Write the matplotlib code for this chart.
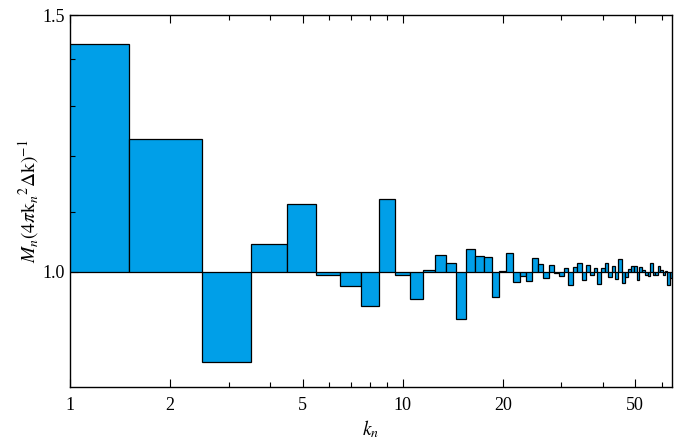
import numpy as np
import matplotlib
matplotlib.use("Agg")
import matplotlib.pyplot as plt
from matplotlib.ticker import FixedLocator, NullFormatter, FixedFormatter

plt.rcParams['font.family'] = ['Liberation Serif', 'DejaVu Serif']
plt.rcParams['mathtext.fontset'] = 'stix'

# mode number and normalised mass per mode
k = np.arange(1, 65)
m = [1.433, 1.234, 0.867, 1.045, 1.114, 0.995, 0.978, 0.948, 1.122, 0.995,
     0.959, 1.003, 1.027, 1.014, 0.928, 1.037, 1.025, 1.024, 0.961, 1.002,
     1.031, 0.984, 0.993, 0.986, 1.023, 1.013, 0.990, 1.011, 0.998, 0.993,
     1.006, 0.979, 1.008, 1.015, 0.987, 1.011, 0.996, 1.007, 0.981, 1.007,
     1.015, 0.992, 1.010, 0.989, 1.020, 0.983, 0.992, 1.004, 1.009, 1.010,
     0.987, 1.008, 1.003, 0.995, 0.993, 1.015, 0.995, 0.996, 1.010, 1.003,
     0.996, 1.002, 0.979, 0.990]
m = np.array(m)

fig = plt.figure(figsize=(6.88, 4.43), dpi=100)
ax = fig.add_axes([0.1017, 0.1264, 0.875, 0.8397])

ax.bar(k, m - 1, bottom=1, width=1, color='#009fe8', edgecolor='black', linewidth=0.9)

ax.set_xscale('log')
ax.set_yscale('log')
ax.set_xlim(1, 64.5)
ax.set_ylim(0.834, 1.5)

ax.xaxis.set_major_locator(FixedLocator([1, 2, 5, 10, 20, 50]))
ax.xaxis.set_major_formatter(FixedFormatter(['1', '2', '5', '10', '20', '50']))
ax.xaxis.set_minor_locator(FixedLocator([3, 4, 6, 7, 8, 9, 30, 40, 60]))
ax.xaxis.set_minor_formatter(NullFormatter())
ax.yaxis.set_major_locator(FixedLocator([1.0, 1.5]))
ax.yaxis.set_major_formatter(FixedFormatter(['1.0', '1.5']))
ax.yaxis.set_minor_locator(FixedLocator([1.1, 1.2, 1.3, 1.4]))
ax.yaxis.set_minor_formatter(NullFormatter())

ax.tick_params(which='both', direction='in', top=True, right=False, labelsize=13, width=0.8)
ax.tick_params(which='major', length=6)
ax.tick_params(which='minor', length=3.5)
ax.tick_params(axis='x', pad=7)
for s in ax.spines.values():
    s.set_linewidth(1.0)

ax.set_xlabel(r'$k_n$', fontsize=14, labelpad=3)
ax.set_ylabel(r'$M_n(4\pi\mathrm{k}_n{}^2\Delta\mathrm{k})^{-1}$', fontsize=14, labelpad=1)

fig.savefig('out.png', dpi=100)
